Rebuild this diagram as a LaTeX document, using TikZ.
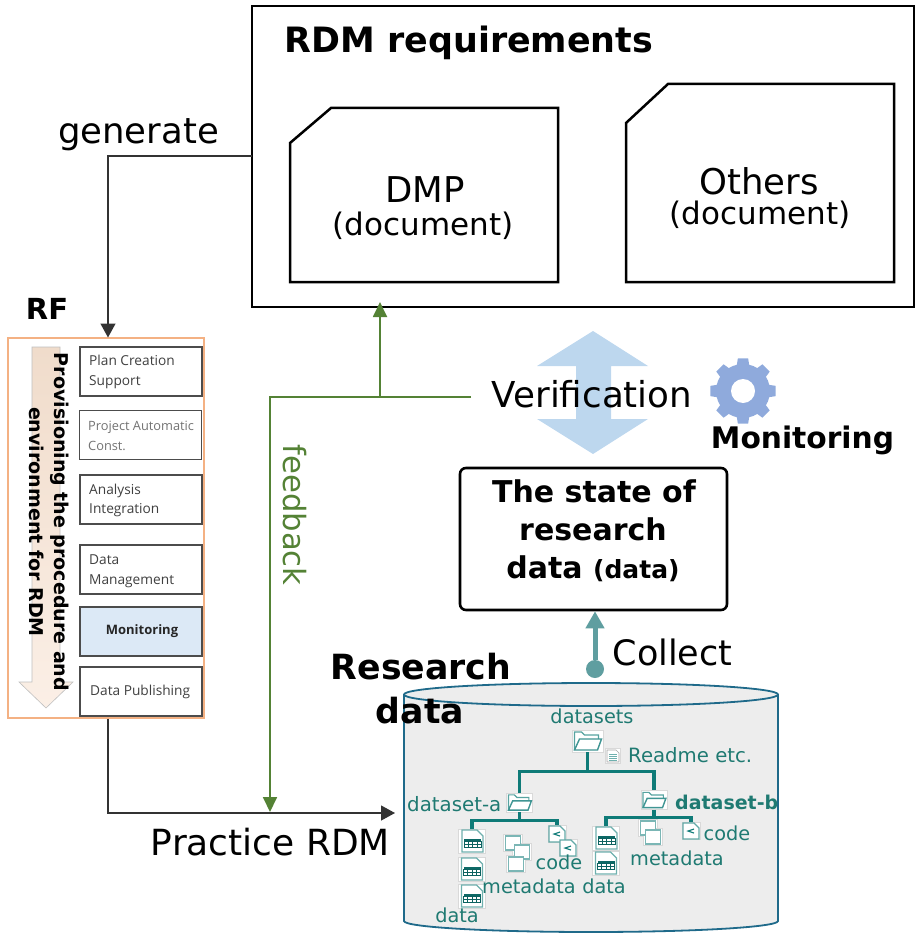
\documentclass[tikz,border=0pt]{standalone}
\usepackage{fontspec}
\setmainfont{DejaVu Sans}
\newfontfamily\pf{Open Sans}
\usetikzlibrary{arrows.meta}
\definecolor{grn}{HTML}{548235}
\definecolor{tealc}{HTML}{1F7A72}
\definecolor{treec}{HTML}{0F7B78}
\definecolor{colc}{HTML}{5F9EA0}
\definecolor{orc}{HTML}{F4B183}
\definecolor{blu}{HTML}{BDD7EE}
\definecolor{gearc}{HTML}{8FAADC}
\definecolor{cylb}{HTML}{1F6A8A}
\definecolor{cylf}{HTML}{EDEDED}
\definecolor{pa}{HTML}{F0DCCB}
\definecolor{pb}{HTML}{F8CBA8}
\definecolor{pc}{HTML}{FBEFE6}
\definecolor{monf}{HTML}{DCE9F6}
\newcommand{\fs}[1]{\fontsize{#1}{#1}\selectfont}
\tikzset{
  lab/.style={inner sep=0pt,anchor=base,text=black},
  tl/.style={inner sep=0pt,anchor=base,text=tealc,font=\fs{19.3}},
  blk/.style={draw=black,line width=2.5pt,fill=white},
  con/.style={draw=black!80,line width=1.3pt},
  tip/.style={-{Triangle[width=15pt,length=14pt]}},
  gtip/.style={-{Triangle[width=14pt,length=15pt]}},
  green/.style={draw=grn,line width=1.8pt},
  step box/.style={draw=black!70,line width=1.4pt,fill=white,minimum width=122pt,minimum height=49pt,inner sep=0pt},
  plab/.style={inner sep=0pt,anchor=base west,text=black!75,font=\pf\fs{13.7}},
  tree/.style={draw=treec,line width=3.2pt},
  ico/.style={fill=white,draw=black!15,line width=.5pt,inner sep=0pt},
  pics/folderglyph/.style={code={
    \draw[treec!70,line width=1.2pt,fill=white] (-13,9) -- (-13,-9) -- (-6,-9) -- (-3,-6) -- (11,-6) -- (11,-2);
    \draw[treec!80,line width=1.4pt,fill=white] (-13,9) -- (-8,-2) -- (14,-2) -- (10,9) -- cycle;
  }},
  pics/dataglyph/.style={code={
    \draw[treec!60,line width=1.3pt,fill=white] (-10,-11) -- (5,-11) -- (11,-5) -- (11,11) -- (-10,11) -- cycle;
    \fill[treec!85!black] (-8,-2) rectangle (9,0);
    \draw[treec!80!black,line width=.8pt] (-8,0) rectangle (9,6) (-8,3) -- (9,3) (-4,0) -- (-4,6) (0.5,0) -- (0.5,6) (5,0) -- (5,6);
  }},
  pics/metaglyph/.style={code={
    \draw[treec!55,line width=1.2pt,fill=white] (-7.5,-7) rectangle (7.5,7);
  }},
  pics/codeglyph/.style={code={
    \draw[treec!65,line width=1.2pt,fill=white] (-8,-8) -- (3,-8) -- (8,-3) -- (8,8) -- (-8,8) -- cycle;
    \draw[treec,line width=1.1pt] (3,-2) -- (-3,0) -- (3,2);
  }},
  pics/readmeglyph/.style={code={
    \draw[black!35,line width=.7pt,fill=white] (-6,-6) -- (3,-6) -- (6,-3) -- (6,6) -- (-6,6) -- cycle;
    \draw[treec!60,line width=.7pt] (-4,-2) -- (4,-2) (-4,0) -- (4,0) (-4,2) -- (4,2) (-4,4) -- (4,4);
  }},
}
\begin{document}
\begin{tikzpicture}[x=1pt,y=-1pt]
\useasboundingbox (0,0) rectangle (915,933);
% RDM requirements
\node[blk,minimum width=662pt,minimum height=301pt,inner sep=0pt] (req) at (583,156.5) {};
\node[lab,font=\fs{34.9}\bfseries] (reqt) at (469,53) {RDM requirements};
\draw[blk] (290,143) -- (331,108) -- (558,108) -- (558,282) -- (290,282) -- cycle;
\draw[blk] (626,123) -- (668,84) -- (894,84) -- (894,282) -- (626,282) -- cycle;
\node[lab,font=\fs{35.5}] (dmp) at (425,203) {DMP};
\node[lab,font=\fs{31}] (dmpd) at (423,235) {(document)};
\node[lab,font=\fs{35.5}] (oth) at (759,195) {Others};
\node[lab,font=\fs{31}] (othd) at (760,225) {(document)};
% RF panel
\node[draw=orc,line width=2pt,fill=white,minimum width=196pt,minimum height=380pt,inner sep=0pt] (rf) at (106,528) {};
\node[lab,font=\fs{29}\bfseries] (rft) at (47,319) {RF};
\draw[draw=black!25,line width=.6pt,top color=pa,middle color=pb,bottom color=pc] (32,347) -- (60,347) -- (60,682) -- (73,682) -- (46,708) -- (19,682) -- (32,682) -- cycle;
\node[step box] (s1) at (141,371.5) {};
\node[step box] (s2) at (140.5,435) {};
\node[step box] (s3) at (141,499.5) {};
\node[step box] (s4) at (141,569.5) {};
\node[step box,fill=monf] (s5) at (141,631.5) {};
\node[step box] (s6) at (141,691.5) {};
\node[plab] (s1a) at (89,365) {Plan Creation};
\node[plab] (s1b) at (89,385) {Support};
\node[plab,text=black!55,font=\pf\fs{12.8}] (s2a) at (88,430) {Project Automatic};
\node[plab,text=black!55,font=\pf\fs{12.8}] (s2b) at (88,450) {Const.};
\node[plab] (s3a) at (89,494) {Analysis};
\node[plab] (s3b) at (89,513) {Integration};
\node[plab] (s4a) at (89,564) {Data};
\node[plab] (s4b) at (89,584) {Management};
\node[inner sep=0pt,anchor=base,font=\pf\fs{13}\bfseries,text=black!85] (s5a) at (142,634) {Monitoring};
\node[plab] (s6a) at (90,695) {Data Publishing};
\node[inner sep=0pt,rotate=-90,font=\fs{19}\bfseries] (pv1) at (60,522) {Provisioning the procedure and};
\node[inner sep=0pt,rotate=-90,font=\fs{19}\bfseries] (pv2) at (36.5,522) {environment for RDM};
% generate connector
\coordinate (g1) at (252,156);
\draw[con,tip] (g1) -| (108,337.5) coordinate (g2);
\node[lab,font=\fs{35.5}] (gen) at (138.5,144) {generate};
% cylinder
\path[fill=cylf,draw=cylb,line width=1.8pt] (404,694.5) -- (404,921) arc[start angle=180,end angle=0,x radius=187,y radius=11] -- (778,694.5) arc[start angle=0,end angle=-180,x radius=187,y radius=11.5] -- cycle;
\draw[draw=cylb,line width=1.8pt] (404,694.5) arc[start angle=180,end angle=0,x radius=187,y radius=11.5];
\node[inner sep=0pt,minimum width=374pt,minimum height=250pt] (cyl) at (591,808) {};
% connectors to cylinder
\coordinate (p1) at (108,718.5);
\coordinate (p2) at (395,813);
\draw[con,tip] (p1) |- (p2);
\node[lab,font=\fs{36}] (prac) at (270.5,855) {Practice RDM};
% feedback
\coordinate (v1) at (471,397);
\coordinate (v2) at (270,812);
\coordinate (v3) at (380,302);
\draw[green,gtip,draw=grn] (v1) -| (v2);
\draw[green,gtip] (380,397) -- (v3);
\node[inner sep=0pt,rotate=-90,text=grn,font=\fs{30.7}] (fb) at (295,515) {feedback};
% verification arrow
\fill[blu] (593,331) -- (648,366) -- (611,366) -- (611,419) -- (648,419) -- (593,454) -- (537,419) -- (576,419) -- (576,366) -- (537,366) -- cycle;
\node[lab,font=\fs{35.7}] (ver) at (592,407) {Verification};
% gear
\begin{scope}[shift={(743,391)}]
\fill[gearc] (0,0) circle[radius=27];
\foreach \a in {0,45,...,315}{\fill[gearc] (\a-14:26) -- (\a-9:33) -- (\a+9:33) -- (\a+14:26) -- cycle;}
\fill[white] (0,0) circle[radius=12];
\end{scope}
\node[lab,font=\fs{29.7}\bfseries] (mon) at (802.5,448) {Monitoring};
% state
\node[draw=black,line width=2.6pt,rounded corners=6pt,fill=white,minimum width=267pt,minimum height=142pt,inner sep=0pt] (state) at (593.5,539) {};
\node[lab,font=\fs{30}\bfseries] (st1) at (594,502) {The state of};
\node[lab,font=\fs{30}\bfseries] (st2) at (593,540) {research};
\node[lab,font=\fs{30}\bfseries] (st3) at (593,578) {data {\fs{25}(data)}};
% collect
\node[circle,fill=colc,inner sep=0pt,minimum size=18pt] (dot) at (595,669) {};
\draw[draw=colc,line width=5pt,-{Triangle[width=18pt,length=17pt]}] (dot) -- (state.south -| dot);
\node[lab,font=\fs{35}] (col) at (672.5,665) {Collect};
% tree
\node[ico,minimum width=31pt,minimum height=22pt] (root) at (587.5,741) {};
\node[ico,minimum width=26pt,minimum height=19pt] (fa) at (519.5,802.5) {};
\node[ico,minimum width=26pt,minimum height=19pt] (fb) at (654,800) {};
\node[ico,minimum width=27pt,minimum height=24pt] (da1) at (472,841) {};
\node[ico,minimum width=27pt,minimum height=24pt] (da2) at (471.5,869) {};
\node[ico,minimum width=27pt,minimum height=24pt] (da3) at (471.5,896) {};
\node[ico,minimum width=27pt,minimum height=24pt] (db1) at (606,838) {};
\node[ico,minimum width=27pt,minimum height=24pt] (db2) at (605.5,863) {};
\node[ico,minimum width=19pt,minimum height=17pt] (ma1) at (513,843) {};
\node[ico,minimum width=19pt,minimum height=17pt] (ma2) at (522,852) {};
\node[ico,minimum width=19pt,minimum height=17pt] (ma3) at (516,864) {};
\node[ico,minimum width=19pt,minimum height=17pt] (mb1) at (648,828) {};
\node[ico,minimum width=19pt,minimum height=17pt] (mb2) at (653,837) {};
\node[ico,minimum width=18pt,minimum height=17pt] (ca1) at (557,834) {};
\node[ico,minimum width=18pt,minimum height=17pt] (ca2) at (568,848) {};
\node[ico,minimum width=18pt,minimum height=17pt] (cb1) at (691,831) {};
\node[ico,minimum width=15pt,minimum height=15pt] (rd) at (613,756) {};
\draw[tree] (root.south) -- ++(0,19) -| (fa.north);
\draw[tree] (root.south) -- ++(0,19) -| (fb.north);
\draw[tree] (fa.south) -- ++(0,8) -| (da1.north);
\draw[tree] (fa.south) -- ++(0,8) -| (ca1.north);
\draw[tree] (fb.south) -- ++(0,8) -| (db1.north);
\draw[tree] (fb.south) -- ++(0,8) -| (cb1.north);
\pic at (root) {folderglyph};
\pic[scale=.85] at (fa) {folderglyph};
\pic[scale=.85] at (fb) {folderglyph};
\foreach \n in {da1,da2,da3,db1,db2}{\pic at (\n) {dataglyph};}
\foreach \n in {ma1,ma2,ma3,mb1,mb2}{\pic at (\n) {metaglyph};}
\foreach \n in {ca1,ca2,cb1}{\pic at (\n) {codeglyph};}
\pic at (rd) {readmeglyph};
\node[tl] (t1) at (592,723) {datasets};
\node[tl,anchor=base west,font=\fs{19.7}] (t2) at (628,762) {Readme etc.};
\node[tl,anchor=base west,font=\fs{19.8}] (t3) at (407,811) {dataset-a};
\node[tl,anchor=base west,font=\fs{19}\bfseries] (t4) at (675,809) {dataset-b};
\node[tl] (t5) at (559,869) {code};
\node[tl] (t6) at (529,893) {metadata};
\node[tl] (t7) at (604,893) {data};
\node[tl] (t8) at (457,922) {data};
\node[tl] (t9) at (727,840) {code};
\node[tl] (t10) at (677,865) {metadata};
\node[lab,font=\fs{34.7}\bfseries] (r1) at (421,679) {Research};
\node[lab,font=\fs{34.7}\bfseries] (r2) at (420,723) {data};
\end{tikzpicture}
\end{document}
